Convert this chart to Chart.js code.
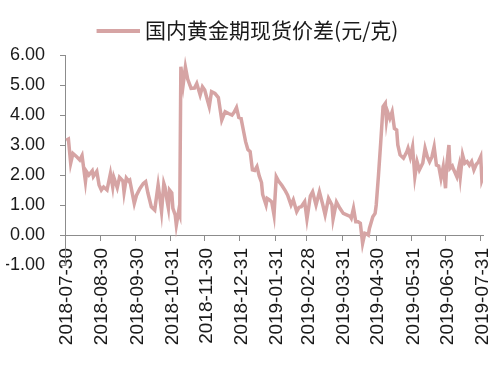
<!DOCTYPE html>
<html><head><meta charset="utf-8">
<script src="https://cdn.jsdelivr.net/npm/chart.js@4"></script>
<style>html,body{margin:0;padding:0;background:#fff}#c{display:block}</style>
</head><body><canvas id="c" width="491" height="378"></canvas>
<script>
const seriesName = '国内黄金期现货价差(元/克)';
const dates = ['2018-07-31','2018-08-02','2018-08-04','2018-08-06','2018-08-09','2018-08-12','2018-08-14','2018-08-17','2018-08-18','2018-08-20','2018-08-23','2018-08-24','2018-08-27','2018-08-29','2018-08-31','2018-09-02','2018-09-05','2018-09-08','2018-09-10','2018-09-11','2018-09-14','2018-09-16','2018-09-19','2018-09-20','2018-09-22','2018-09-24','2018-09-25','2018-09-27','2018-09-29','2018-10-01','2018-10-04','2018-10-07','2018-10-09','2018-10-11','2018-10-14','2018-10-17','2018-10-20','2018-10-21','2018-10-23','2018-10-25','2018-10-26','2018-10-28','2018-10-29','2018-10-30','2018-11-01','2018-11-02','2018-11-04','2018-11-05','2018-11-07','2018-11-08','2018-11-09','2018-11-11','2018-11-13','2018-11-15','2018-11-18','2018-11-21','2018-11-23','2018-11-26','2018-11-28','2018-11-30','2018-12-02','2018-12-04','2018-12-06','2018-12-09','2018-12-12','2018-12-15','2018-12-18','2018-12-21','2018-12-24','2018-12-26','2018-12-28','2018-12-30','2019-01-01','2019-01-03','2019-01-05','2019-01-07','2019-01-09','2019-01-11','2019-01-13','2019-01-15','2019-01-17','2019-01-19','2019-01-20','2019-01-23','2019-01-24','2019-01-26','2019-01-28','2019-01-30','2019-02-01','2019-02-03','2019-02-06','2019-02-09','2019-02-11','2019-02-14','2019-02-16','2019-02-19','2019-02-21','2019-02-23','2019-02-26','2019-02-28','2019-03-03','2019-03-05','2019-03-08','2019-03-11','2019-03-14','2019-03-16','2019-03-19','2019-03-22','2019-03-23','2019-03-26','2019-03-29','2019-04-01','2019-04-04','2019-04-07','2019-04-08','2019-04-10','2019-04-12','2019-04-14','2019-04-16','2019-04-18','2019-04-20','2019-04-21','2019-04-23','2019-04-24','2019-04-27','2019-04-29','2019-04-30','2019-05-02','2019-05-04','2019-05-06','2019-05-08','2019-05-09','2019-05-10','2019-05-12','2019-05-14','2019-05-16','2019-05-18','2019-05-19','2019-05-21','2019-05-24','2019-05-27','2019-05-28','2019-05-30','2019-06-01','2019-06-03','2019-06-05','2019-06-07','2019-06-10','2019-06-12','2019-06-14','2019-06-16','2019-06-18','2019-06-20','2019-06-22','2019-06-24','2019-06-26','2019-06-28','2019-06-30','2019-07-01','2019-07-03','2019-07-04','2019-07-06','2019-07-07','2019-07-10','2019-07-12','2019-07-13','2019-07-15','2019-07-17','2019-07-19','2019-07-21','2019-07-23','2019-07-25','2019-07-27','2019-07-29','2019-07-31','2019-08-01','2019-08-02'];
const values = [3.16,3.2,2.39,2.72,2.62,2.5,2.65,1.78,2.11,2.0,2.14,1.95,2.12,1.67,1.5,1.6,1.5,2.05,1.6,1.92,1.58,1.92,1.8,1.42,1.9,1.8,1.83,1.44,1.05,1.33,1.55,1.72,1.78,1.4,0.94,0.83,1.67,1.4,0.78,1.72,1.6,1.11,0.9,1.5,1.4,0.89,0.67,0.33,0.78,0.67,5.61,5.0,5.6,5.2,4.89,4.9,5.05,4.67,4.94,4.83,4.55,4.28,4.78,4.72,4.58,3.83,4.11,4.05,4.0,4.1,4.25,3.92,3.89,3.5,3.11,2.85,2.78,2.17,2.15,2.28,1.97,1.75,1.35,1.0,1.22,1.17,1.1,0.67,1.94,1.8,1.65,1.47,1.33,1.0,1.17,0.78,0.92,0.94,1.11,0.53,1.3,1.44,1.0,1.44,1.0,0.67,1.22,1.0,0.53,1.1,0.89,0.72,0.67,0.62,0.56,0.89,0.44,0.44,0.39,-0.28,0.06,0.05,0.0,0.22,0.61,0.72,1.0,2.0,3.11,4.28,4.39,3.83,4.11,3.89,4.11,3.55,3.5,3.0,2.67,2.56,2.78,2.89,2.6,2.94,1.94,2.44,2.17,2.4,2.89,2.61,2.44,2.6,2.94,2.33,2.3,1.89,2.28,1.56,2.3,3.0,2.22,2.3,2.2,1.94,2.3,1.94,2.67,2.39,2.45,2.33,2.45,2.17,2.35,2.44,2.61,1.83,1.94];
const tickLabels = ['2018-07-30','2018-08-30','2018-09-30','2018-10-31','2018-11-30','2018-12-31','2019-01-31','2019-02-28','2019-03-31','2019-04-30','2019-05-31','2019-06-30','2019-07-31'];
const axisStart = '2018-07-30';
const axisEnd = '2019-08-02';
const yMin = -1, yMax = 6, yStep = 1;

const LINE = 'rgb(214,164,164)';
const AXIS = '#8c8c8c';
const TEXT = '#1a1a1a';
const dayOf = s => (Date.parse(s + 'T00:00:00Z') - Date.parse(axisStart + 'T00:00:00Z')) / 86400000;

// legend sample: a 43px line, drawn so the gap to the text is small
const sample = document.createElement('canvas');
sample.width = 48; sample.height = 4;
(function () {
  const g = sample.getContext('2d');
  g.fillStyle = LINE;
  g.fillRect(5, 0, 43, 4);
})();

const legendTweak = {
  id: 'legendTweak',
  beforeInit(chart) {
    const orig = chart.legend.fit;
    chart.legend.fit = function () { orig.call(this); this.height += 4; };
  },
  afterLayout(chart) {
    chart.legend.left += 3;
    chart.legend.right += 3;
  }
};

new Chart(document.getElementById('c'), {
  type: 'line',
  data: {
    datasets: [{
      label: seriesName,
      data: dates.map((d, i) => ({x: dayOf(d), y: values[i]})),
      borderColor: LINE,
      backgroundColor: LINE,
      borderWidth: 3.5,
      pointRadius: 0,
      tension: 0,
      fill: false
    }]
  },
  plugins: [legendTweak],
  options: {
    responsive: false,
    animation: false,
    devicePixelRatio: 1,
    layout: {padding: {left: 6, right: 8, top: 10, bottom: 113}},
    plugins: {
      legend: {
        display: true,
        position: 'top',
        labels: {
          usePointStyle: true,
          pointStyle: sample,
          pointStyleWidth: 38,
          font: {family: '"Noto Sans CJK SC"', size: 21},
          color: TEXT,
          padding: 10
        }
      },
      tooltip: {enabled: false}
    },
    scales: {
      x: {
        type: 'linear',
        position: {y: 0},
        min: 0,
        max: dayOf(axisEnd),
        afterBuildTicks: s => { s.ticks = tickLabels.map(t => ({value: dayOf(t)})); },
        afterFit: s => { s.paddingLeft = 0; s.paddingRight = 0; },
        ticks: {
          autoSkip: false, maxRotation: 90, minRotation: 90, padding: 8, labelOffset: 2,
          font: {family: '"Liberation Sans"', size: 19}, color: TEXT,
          callback: (v, i) => tickLabels[i]
        },
        grid: {drawOnChartArea: false, drawTicks: true, tickLength: 5, color: AXIS},
        border: {display: true, color: AXIS, width: 1}
      },
      y: {
        min: yMin, max: yMax,
        afterFit: s => { s.width = 59; },
        ticks: {
          stepSize: yStep, padding: 15,
          font: {family: '"Liberation Sans"', size: 18}, color: TEXT,
          callback: v => Number(v).toFixed(2)
        },
        grid: {drawOnChartArea: false, drawTicks: true, tickLength: 5, color: AXIS},
        border: {display: true, color: AXIS, width: 1}
      }
    }
  }
});
</script>
</body></html>
